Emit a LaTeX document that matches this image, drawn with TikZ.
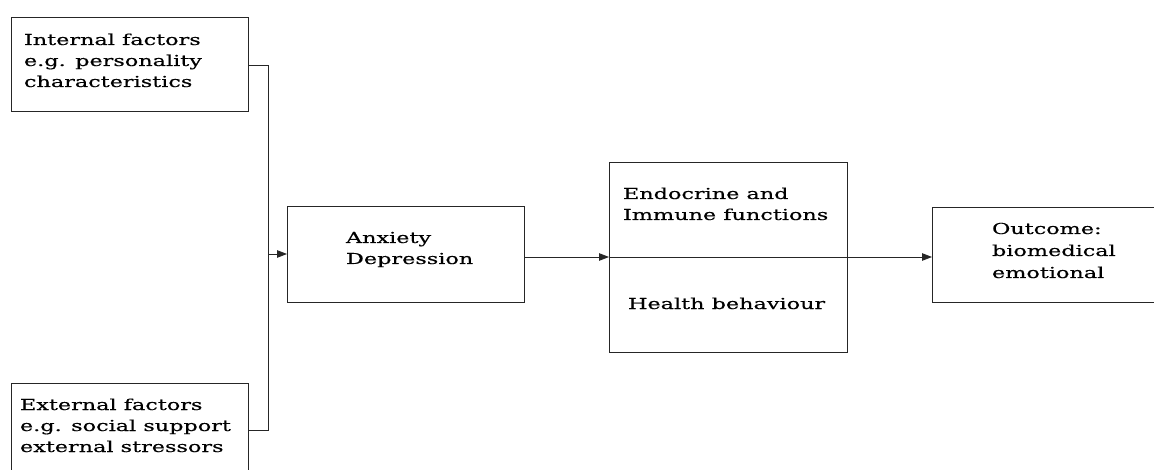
\documentclass[tikz,border=0pt]{standalone}
\usepackage{fontspec}
\setmainfont[FakeStretch=1.48,FakeBold=0.4]{DejaVu Serif}
\usetikzlibrary{arrows.meta}
\newcommand{\lblfont}{\fontsize{15.1}{21}\selectfont}
\newcommand{\lblfontb}{\fontsize{15.1}{22}\selectfont}
\begin{document}
\begin{tikzpicture}[x=1pt,y=-1pt,
  box/.style={draw=black!85, line width=0.9pt, anchor=north west, inner sep=0pt, outer sep=0pt},
  lbl/.style={anchor=base west, inner sep=0pt, outer sep=0pt, font=\lblfont, text=black},
  conn/.style={draw=black!85, line width=0.9pt},
  arr/.style={conn, -{Triangle[length=10pt,width=7.5pt]}}]
\useasboundingbox (0,0) rectangle (1154,470);
\clip (0,0) rectangle (1154,470);
\fill[white] (0,0) rectangle (1154,470);
% boxes
\node[box, minimum width=237pt, minimum height=94pt] (int) at (11,17) {};
\node[box, minimum width=237pt, minimum height=110pt] (ext) at (11,383) {};
\node[box, minimum width=237pt, minimum height=96pt] (anx) at (287,206) {};
\node[box, minimum width=238pt, minimum height=190pt] (mid) at (609,162) {};
\node[box, minimum width=240pt, minimum height=95pt] (out) at (932,207) {};
% texts
\node[lbl] (intT) at (24,45) {\begin{tabular}[t]{@{}l@{}}Internal factors\\e.g. personality\\characteristics\end{tabular}};
\node[lbl] (extT) at (20,410) {\begin{tabular}[t]{@{}l@{}}External factors\\e.g. social support\\external stressors\end{tabular}};
\node[lbl] (anxT) at (346,243) {\begin{tabular}[t]{@{}l@{}}Anxiety\\Depression\end{tabular}};
\node[lbl] (midT) at (623,199) {\begin{tabular}[t]{@{}l@{}}Endocrine and\\Immune functions\end{tabular}};
\node[lbl] (midB) at (628,309) {Health behaviour};
\node[lbl, font=\lblfontb] (outT) at (992,234) {\begin{tabular}[t]{@{}l@{}}Outcome:\\biomedical\\emotional\end{tabular}};
% connectors
\coordinate (jt) at (268,65);
\coordinate (jb) at (268,430);
\draw[conn] (int.east |- jt) -- (jt) -- (jb) -- (ext.east |- jb);
\draw[arr] (jt |- anx.west) -- (anx.west);
\draw[arr] (anx.east |- mid.west) -- (mid.west);
\draw[conn] (mid.west) -- (mid.east);
\draw[arr] (mid.east) -- (out.west |- mid.east);
\end{tikzpicture}
\end{document}
